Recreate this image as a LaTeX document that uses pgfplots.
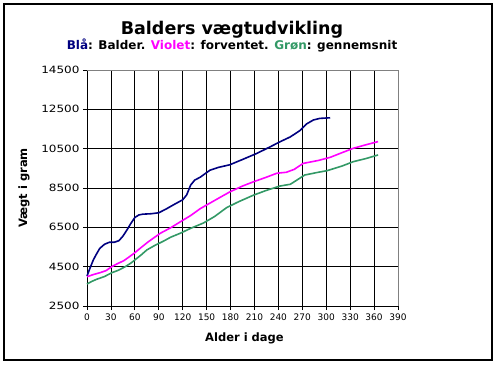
\documentclass[border=0pt]{standalone}
\usepackage{fontspec}
\setmainfont{DejaVu Sans}
\newfontfamily\ytfont[FakeStretch=1.2]{DejaVu Sans}
\usepackage{pgfplots}
\pgfplotsset{compat=1.18}
\definecolor{bnavy}{HTML}{000080}
\definecolor{bmag}{HTML}{FF00FF}
\definecolor{bgreen}{HTML}{339966}
\begin{document}
\begin{tikzpicture}
\useasboundingbox (-87pt,-59pt) rectangle (410pt,306pt);
\begin{axis}[
  scale only axis, width=311pt, height=236pt,
  at={(0,0)}, anchor=south west,
  xmin=0, xmax=390, ymin=2500, ymax=14500,
  xtick={0,30,...,390}, ytick={2500,4500,...,14500},
  scaled ticks=false, tick pos=left,
  grid=major, major grid style={black, line width=0.8pt},
  axis line style={black, line width=0.8pt},
  tick align=outside, major tick length=4pt,
  tick style={black, line width=0.8pt},
  /pgf/number format/1000 sep={},
  /pgf/number format/assume math mode=true,
  y tick label style={font=\ytfont\fontsize{10}{12}\selectfont},
  x tick label style={font=\fontsize{9}{11}\selectfont},
  xlabel={Alder i dage}, ylabel={Vægt i gram},
  x label style={font=\bfseries\fontsize{11.5}{13}\selectfont, at={(axis description cs:0.5064,-0.1513)}, anchor=base},
  y label style={font=\bfseries\fontsize{11.5}{13}\selectfont, at={(axis description cs:-0.1929,0.5)}, anchor=base},
  clip=false,
]
\addplot[bnavy, line width=1.6pt] coordinates {
(0,4025) (4,4450) (8,4850) (12,5150) (16,5430) (22,5640) (28,5740) (34,5740) (40,5820) (45,6050) (50,6360) (55,6700) (60,7000) (65,7130) (70,7170) (80,7190) (90,7240) (100,7450) (110,7680) (120,7900) (125,8150) (130,8650) (135,8900) (142,9050) (154,9400) (165,9550) (179,9680) (195,9950) (213,10260) (230,10600) (242,10850) (255,11100) (267,11420) (275,11750) (284,11960) (292,12040) (305,12070)
};
\addplot[bmag, line width=1.6pt] coordinates {
(0,3990) (8,4100) (16,4190) (24,4300) (31,4500) (38,4650) (46,4800) (53,5000) (60,5210) (68,5480) (77,5770) (85,6000) (92,6200) (105,6480) (117,6780) (130,7100) (142,7450) (155,7750) (168,8050) (179,8300) (195,8600) (209,8820) (225,9050) (238,9250) (250,9300) (260,9450) (271,9750) (290,9900) (305,10060) (320,10300) (334,10520) (350,10700) (365,10860)
};
\addplot[bgreen, line width=1.6pt] coordinates {
(0,3618) (6,3750) (12,3857) (22,4000) (31,4190) (40,4330) (48,4500) (55,4680) (60,4840) (68,5100) (75,5350) (85,5580) (96,5800) (105,6000) (117,6200) (130,6450) (146,6720) (160,7050) (175,7500) (190,7800) (209,8140) (225,8380) (242,8600) (255,8690) (265,8950) (273,9160) (290,9300) (301,9380) (320,9620) (334,9840) (350,10000) (365,10180)
};
\draw[gray, line width=0.8pt] (rel axis cs:0,1) -- (rel axis cs:1,1) -- (rel axis cs:1,0);
\end{axis}
\node[anchor=base, font=\bfseries\fontsize{17.5}{20}\selectfont] at (145pt,272pt) {Balders vægtudvikling};
\node[anchor=base, font=\bfseries\fontsize{12}{14}\selectfont] at (145pt,256.7pt) {\textcolor{bnavy}{Blå}: Balder. \textcolor{bmag}{Violet}: forventet. \textcolor{bgreen}{Grøn}: gennemsnit};
\draw[black, line width=1.5pt] (-83pt,-54pt) rectangle (405pt,302pt);
\end{tikzpicture}
\end{document}
